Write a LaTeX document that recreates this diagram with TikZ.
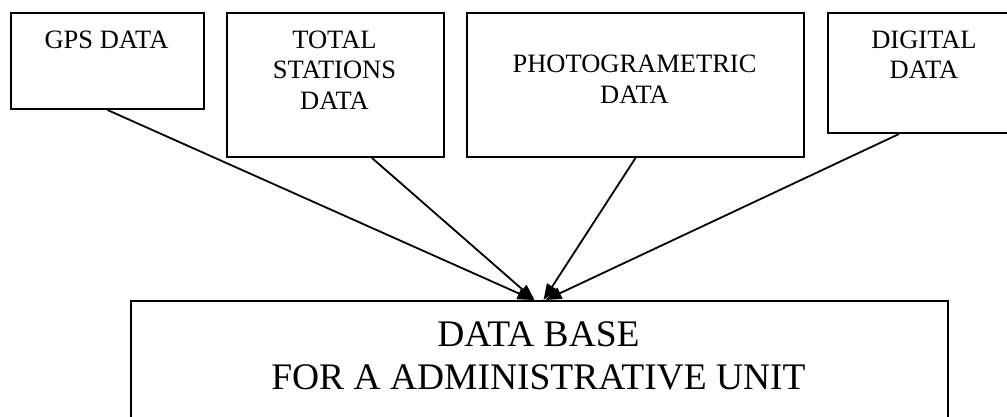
\documentclass[tikz,border=0pt]{standalone}
\usepackage{fontspec}
\setmainfont{Liberation Serif}
\usetikzlibrary{arrows.meta}
\begin{document}
\begin{tikzpicture}[x=1pt,y=-1pt,
 box/.style={draw,line width=2pt,inner sep=0pt,anchor=north west},
 small/.style={font=\fontsize{26.5}{30.5}\selectfont,align=center,inner sep=0pt,anchor=north},
 big/.style={font=\fontsize{37.5}{43}\selectfont,align=center,inner sep=0pt,anchor=north},
 conn/.style={line width=1.8pt,-{Triangle[length=16pt,width=12pt]}}]
\useasboundingbox (0,0) rectangle (1007,417);
\clip (0,0) rectangle (1007,417);
\node[box,minimum width=193pt,minimum height=96pt] (gps) at (10,12) {};
\node[box,minimum width=217pt,minimum height=144pt] (tot) at (226,12) {};
\node[box,minimum width=337pt,minimum height=144pt] (pho) at (466,12) {};
\node[box,minimum width=194pt,minimum height=120pt] (dig) at (827,12) {};
\node[box,minimum width=817pt,minimum height=200pt] (db) at (130,300) {};
\node[small] (gpst) at (106.5,30.5) {GPS DATA};
\node[small] (tott) at (334.5,30.5) {TOTAL\\STATIONS\\DATA};
\node[small] (phot) at (634.5,55) {PHOTOGRAMETRIC\\DATA};
\node[small] (digt) at (924,30.5) {DIGITAL\\DATA};
\node[big] (dbt) at (538.5,321.5) {DATA BASE\\FOR A ADMINISTRATIVE UNIT};
\draw[conn] (gps.south) -- ([xshift=-6pt]db.north);
\draw[conn] ([xshift=36.5pt]tot.south) -- ([xshift=-5pt]db.north);
\draw[conn] (pho.south) -- ([xshift=4pt]db.north);
\draw[conn] ([xshift=-26pt]dig.south) -- ([xshift=6pt]db.north);
\end{tikzpicture}
\end{document}
